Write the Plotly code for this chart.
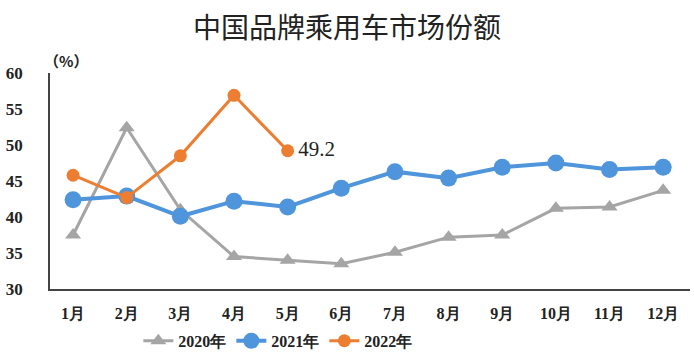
import plotly.graph_objects as go

months = ["1月", "2月", "3月", "4月", "5月", "6月", "7月", "8月", "9月", "10月", "11月", "12月"]
s2020 = [37.5, 52.4, 41.0, 34.5, 34.0, 33.5, 35.1, 37.2, 37.5, 41.2, 41.4, 43.7]
s2021 = [42.4, 42.9, 40.1, 42.2, 41.4, 44.0, 46.3, 45.4, 46.9, 47.5, 46.6, 46.9]
s2022 = [45.8, 42.7, 48.5, 56.9, 49.2]
y_ticks = [30, 35, 40, 45, 50, 55, 60]

x_pos = list(range(1, 13))
font_serif = "Liberation Serif"

fig = go.Figure()
fig.add_trace(go.Scatter(
    x=x_pos, y=s2020, name="2020年", mode="lines+markers",
    line=dict(color="#A5A5A5", width=3),
    marker=dict(symbol="triangle-up", size=14, color="#A5A5A5"),
))
fig.add_trace(go.Scatter(
    x=x_pos, y=s2021, name="2021年", mode="lines+markers",
    line=dict(color="#4F95DB", width=4),
    marker=dict(symbol="circle", size=17, color="#4F95DB"),
))
fig.add_trace(go.Scatter(
    x=x_pos[:len(s2022)], y=s2022, name="2022年", mode="lines+markers",
    line=dict(color="#ED7D31", width=3),
    marker=dict(symbol="circle", size=13, color="#ED7D31"),
))
fig.add_trace(go.Scatter(
    x=[x_pos[len(s2022) - 1]], y=[s2022[-1]], mode="text",
    text=[f"  {s2022[-1]}"], textposition="middle right",
    textfont=dict(family=font_serif, size=21, color="#222222"),
    showlegend=False, hoverinfo="skip",
))

fig.update_layout(
    width=694, height=362,
    margin=dict(l=50, r=4, t=73, b=73, autoexpand=False),
    paper_bgcolor="white", plot_bgcolor="white",
    title=dict(text="中国品牌乘用车市场份额", x=0.5, xanchor="center", y=0.95, yanchor="top",
               font=dict(family="Noto Sans CJK SC", size=28, color="#222222")),
    legend=dict(orientation="h", x=0.356, xanchor="center", y=-0.24, yanchor="middle",
                font=dict(family=font_serif, size=16, color="#222222", weight="bold"),
                itemwidth=30, tracegroupgap=0),
    xaxis=dict(
        tickmode="array", tickvals=x_pos, ticktext=months,
        range=[0.57, 12.5], showgrid=False, zeroline=False, automargin=False,
        showline=True, linecolor="#444444", linewidth=1.5, ticks="",
        ticklabelstandoff=9,
        tickfont=dict(family=font_serif, size=16, color="#222222", weight="bold"),
    ),
    yaxis=dict(
        range=[30, 60], tickvals=y_ticks, showgrid=False, zeroline=False, automargin=False,
        showline=True, linecolor="#444444", linewidth=1.5, ticks="",
        ticklabelstandoff=22,
        tickfont=dict(family=font_serif, size=17, color="#222222", weight="bold"),
    ),
    annotations=[dict(text="（%）", xref="paper", yref="paper", x=-0.012, y=1.0,
                      xanchor="left", yanchor="bottom", showarrow=False,
                      font=dict(family="Noto Sans CJK SC", size=15, color="#222222", weight="bold"))],
)

fig.write_html("out.html", config={"displayModeBar": False},
               post_script="document.body.style.margin='0';document.body.style.overflow='hidden';")
